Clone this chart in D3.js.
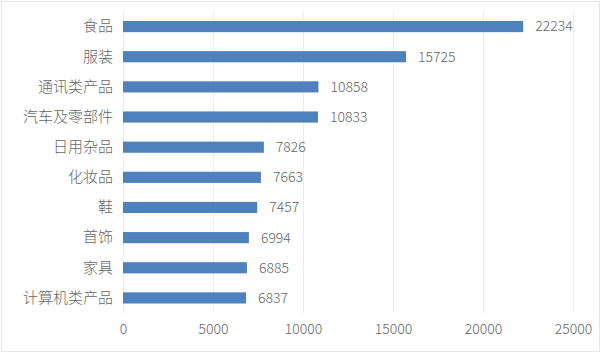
<!DOCTYPE html>
<html><head><meta charset="utf-8">
<script src="https://cdn.jsdelivr.net/npm/d3@7/dist/d3.min.js"></script>
<style>
html,body{margin:0;padding:0;background:#fff;}
text{font-family:"Noto Sans CJK SC","Microsoft YaHei",sans-serif;font-weight:300;}
</style></head>
<body><svg id="c" width="615" height="359"></svg>
<script>
const categories = ["食品","服装","通讯类产品","汽车及零部件","日用杂品","化妆品","鞋","首饰","家具","计算机类产品"];
const values = [22234,15725,10858,10833,7826,7663,7457,6994,6885,6837];
const tickValues = [0,5000,10000,15000,20000,25000];

const svg = d3.select("#c");
svg.append("rect").attr("x",1.5).attr("y",1.5).attr("width",598).attr("height",350)
  .attr("fill","#fff").attr("stroke","#e6e6e6");

const x = d3.scaleLinear().domain([0,25000]).range([123,573]);
const y = d3.scaleBand().domain(categories).range([11.5,313]).paddingInner(0.63).paddingOuter(0.315);

// gridlines
svg.append("g").selectAll("line").data(tickValues).join("line")
  .attr("x1",d=>x(d)+0.5).attr("x2",d=>x(d)+0.5).attr("y1",11.5).attr("y2",313)
  .attr("stroke","#ececec").attr("stroke-width",1);

// x axis labels
const xa = svg.append("g").attr("transform","translate(0,313)")
  .call(d3.axisBottom(x).tickValues(tickValues).tickSize(0).tickPadding(11).tickFormat(d3.format("d")));
xa.select(".domain").remove();
xa.selectAll("text").attr("fill","#666").style("font-size","14px");

// y axis labels
const ya = svg.append("g").attr("transform","translate(123,0)")
  .call(d3.axisLeft(y).tickSize(0).tickPadding(10));
ya.select(".domain").remove();
ya.selectAll("text").attr("fill","#666").style("font-size","15px");

// bars
svg.append("g").selectAll("rect").data(values).join("rect")
  .attr("x",x(0)).attr("y",(d,i)=>y(categories[i]))
  .attr("width",d=>x(d)-x(0)).attr("height",y.bandwidth())
  .attr("fill","#4f81bd");

// value labels
svg.append("g").selectAll("text").data(values).join("text")
  .attr("x",d=>x(d)+12).attr("y",(d,i)=>y(categories[i])+y.bandwidth()/2)
  .attr("dy","0.35em").attr("fill","#666").style("font-size","14px")
  .text(d=>d);
</script></body></html>
